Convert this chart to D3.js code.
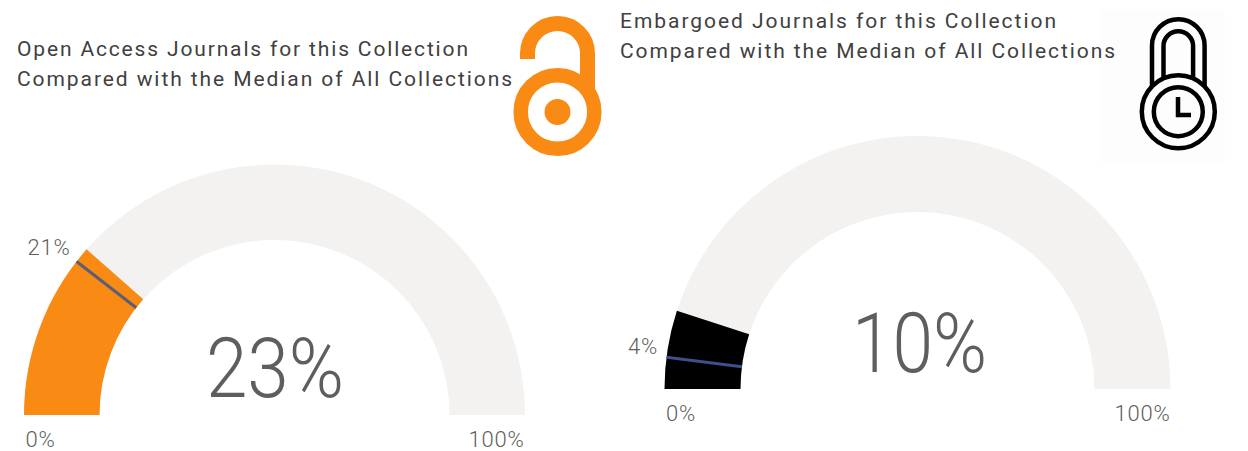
<!DOCTYPE html>
<html><head><meta charset="utf-8">
<script src="https://cdn.jsdelivr.net/npm/d3@7"></script>
<style>html,body{margin:0;background:#fff}svg{display:block}text{font-family:Roboto,sans-serif}</style>
</head><body><svg id="c" width="1248" height="451"></svg>
<script>
const gaugeNames = ["open", "embargoed"];
const titlesLine1 = ["Open Access Journals for this Collection", "Embargoed Journals for this Collection"];
const titlesLine2 = ["Compared with the Median of All Collections", "Compared with the Median of All Collections"];
const values = [23, 10];
const medians = [21, 4];
const minLabels = ["0%", "0%"];
const maxLabels = ["100%", "100%"];
const fills = ["#F98A14", "#000000"];
const medianColors = ["#5A5F78", "#3F4F8C"];

const layout = [
  {cx:274.5, cy:415, R:250.5, r:175, tx:17, ty1:56, ty2:86, len1:451, minX:40.5, minY:447, maxX:496.5, maxY:447, medX:49, medY:255, bigX:275, bigY:397, bigSx:.89},
  {cx:917.5, cy:389, R:253, r:177, tx:620, ty1:28, ty2:58, len1:436, minX:681, minY:421, maxX:1142.5, maxY:421, medX:643, medY:354, bigX:919.5, bigY:372, bigSx:.87}
];
const svg = d3.select("#c");
const angle = d3.scaleLinear().domain([0,100]).range([-Math.PI/2, Math.PI/2]);
const arc = d3.arc();

// Lock icon backdrop sits behind the titles
svg.append("rect").attr("x",1100).attr("y",10).attr("width",125).attr("height",153).attr("fill","#FDFDFD");

gaugeNames.forEach((name,i)=>{
  const L = layout[i];
  const g = svg.append("g").attr("class",name);
  const p = g.append("g").attr("transform",`translate(${L.cx},${L.cy})`);
  p.append("path").attr("fill","#F3F2F1")
    .attr("d",arc({innerRadius:L.r,outerRadius:L.R,startAngle:angle(0),endAngle:angle(100)}));
  p.append("path").attr("fill",fills[i])
    .attr("d",arc({innerRadius:L.r,outerRadius:L.R,startAngle:angle(0),endAngle:angle(values[i])}));
  const a = angle(medians[i]);
  p.append("line").attr("stroke",medianColors[i]).attr("stroke-width",3)
    .attr("x1",L.r*Math.sin(a)).attr("y1",-L.r*Math.cos(a))
    .attr("x2",L.R*Math.sin(a)).attr("y2",-L.R*Math.cos(a));
  [[titlesLine1[i],L.ty1,L.len1],[titlesLine2[i],L.ty2,495]].forEach(([t,y,len])=>{
    g.append("text").attr("x",L.tx).attr("y",y).attr("font-size",21).attr("font-weight",400)
      .attr("fill","#404040").attr("textLength",len)
      .attr("lengthAdjust","spacing").text(t);
  });
  const lab=(t,x,y)=>g.append("text").attr("x",x).attr("y",y).attr("text-anchor","middle")
      .attr("font-size",22).attr("font-weight",300).attr("letter-spacing",.8).attr("fill","#605E5C").text(t);
  lab(minLabels[i],L.minX,L.minY);
  lab(maxLabels[i],L.maxX,L.maxY);
  lab(medians[i]+"%",L.medX,L.medY);
  g.append("text").attr("transform",`translate(${L.bigX},${L.bigY}) scale(${L.bigSx},1)`)
    .attr("text-anchor","middle").attr("font-size",84).attr("font-weight",300)
    .attr("fill","#605E5C").text(values[i]+"%");
});

// Open access icon
const oa = svg.append("g").attr("fill","none").attr("stroke","#F98A14");
oa.append("circle").attr("cx",557.5).attr("cy",112).attr("r",36.8).attr("stroke-width",14.5);
oa.append("circle").attr("cx",557.5).attr("cy",112).attr("r",13).attr("fill","#F98A14").attr("stroke","none");
oa.append("path").attr("stroke-width",15).attr("d","M527.5,59V53.5A30,30 0 0 1 587.5,53.5V90");

// Embargo lock icon
const lk = svg.append("g").attr("fill","none").attr("stroke","#000").attr("stroke-width",4.5);
lk.append("circle").attr("cx",1178.3).attr("cy",111.7).attr("r",36.5);
lk.append("circle").attr("cx",1178.3).attr("cy",111.7).attr("r",24.5);
lk.append("path").attr("d","M1152,87V45.5A26.3,26.3 0 0 1 1204.6,45.5V87");
lk.append("path").attr("d","M1163.5,80V46A14.8,14.8 0 0 1 1193.1,46V80");
lk.append("path").attr("d","M1178,97V115H1191");
</script></body></html>
